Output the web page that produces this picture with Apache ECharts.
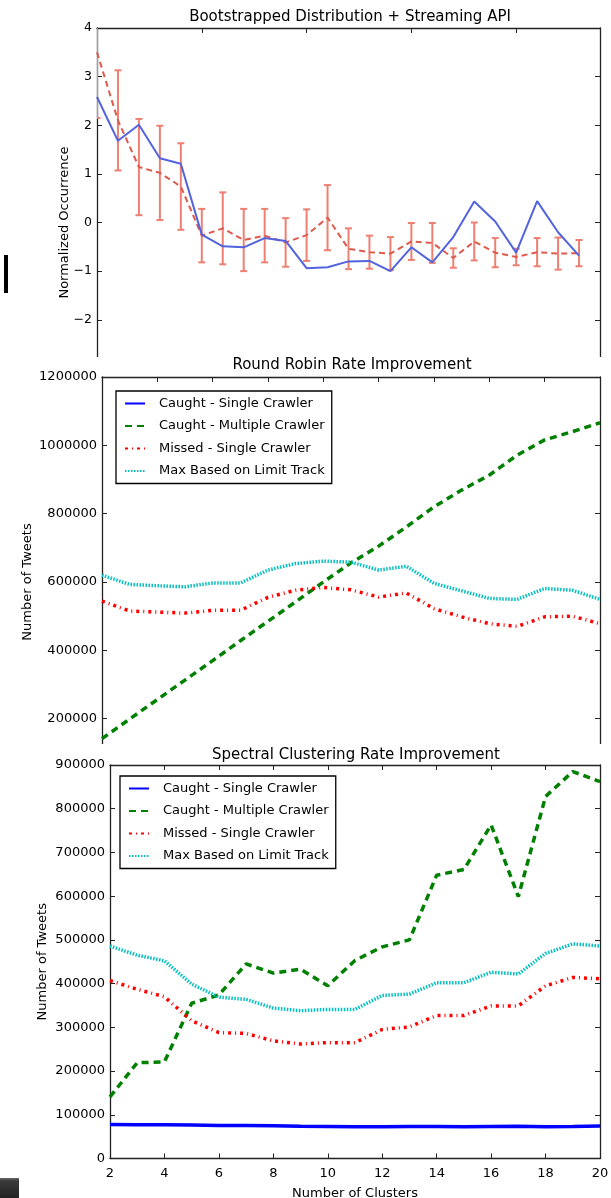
<!DOCTYPE html>
<html><head><meta charset="utf-8">
<script src="https://cdn.jsdelivr.net/npm/echarts/dist/echarts.min.js"></script>
<style>
html,body{margin:0;padding:0;background:#fff;width:611px;height:1198px;overflow:hidden;}
.clip{position:absolute;left:0;width:611px;overflow:hidden;background:#fff;}
.chart{position:absolute;left:0;top:0;width:611px;}
</style></head><body>
<div class="clip" style="top:0;height:357px"><div class="chart" id="c1" style="height:470px"></div></div>
<div class="clip" style="top:357px;height:387px"><div class="chart" id="c2" style="height:470px"></div></div>
<div class="clip" style="top:744px;height:454px"><div class="chart" id="c3" style="height:454px"></div></div>
<script>
// ---------- Panel 1 data ----------
const bootTitle = 'Bootstrapped Distribution + Streaming API';
const bootIndex = [0,1,2,3,4,5,6,7,8,9,10,11,12,13,14,15,16,17,18,19,20,21,22,23];
const streamingValues = [2.58,1.68,2.01,1.32,1.21,-0.25,-0.49,-0.51,-0.32,-0.38,-0.94,-0.92,-0.80,-0.79,-1.00,-0.51,-0.82,-0.30,0.43,0.02,-0.62,0.44,-0.20,-0.68];
const bootstrapMeans = [3.50,2.10,1.14,1.02,0.74,-0.27,-0.12,-0.36,-0.27,-0.41,-0.26,0.10,-0.54,-0.61,-0.64,-0.39,-0.42,-0.73,-0.39,-0.62,-0.71,-0.61,-0.64,-0.63];
const bootstrapErr = [1.35,1.03,0.99,0.97,0.89,0.55,0.74,0.64,0.55,0.50,0.53,0.67,0.42,0.34,0.34,0.38,0.41,0.20,0.39,0.30,0.17,0.29,0.33,0.27];

// ---------- Panels 2 & 3 data ----------
const clusters = [2,3,4,5,6,7,8,9,10,11,12,13,14,15,16,17,18,19,20];
const seriesNames = ['Caught - Single Crawler','Caught - Multiple Crawler','Missed - Single Crawler','Max Based on Limit Track'];
const singleCaught = [77500,77000,77000,76500,75500,75500,75000,73500,73000,72500,72500,73000,73000,72500,73000,73500,72500,73000,74500];
const rrMultiple = [141500,199000,256000,313000,370000,428000,485000,542000,600000,656000,705000,761000,820000,869000,913000,971000,1016000,1040000,1066000];
const rrMissed = [544000,515000,512000,509000,517000,517000,555000,576000,584000,577000,556000,568000,522000,498000,478000,470000,498000,500000,478000];
const rrMax = [620000,593000,589000,586000,597000,597000,635000,654000,661000,658000,635000,646000,596000,574000,552000,549000,581000,576000,549000];
const scMultiple = [141000,219000,221000,355000,374000,445000,424000,433000,395000,453000,484000,500000,648000,661000,763000,599000,828000,885000,862000];
const scMissed = [407000,387000,370000,315000,288000,286000,269000,262000,265000,265000,295000,301000,327000,327000,349000,349000,395000,414000,411000];
const scMax = [486000,465000,452000,399000,369000,364000,344000,338000,341000,341000,373000,376000,402000,402000,426000,422000,469000,491000,486000];

const FONT = 'DejaVu Sans';
const FRAME = {show:true, onZero:false, lineStyle:{color:'#222', width:1.3}};
const TICK = {show:true, inside:true, length:5, lineStyle:{color:'#222', width:1}};
const pairs = (xs, ys) => xs.map((x,i)=>[x, ys[i]]);
const minusFmt = v => v < 0 ? '\u2212' + (-v) : String(v);

function boxAxes(xCfg, yCfg, fs, xName, yName, yGap) {
  const lab = {color:'#000', fontSize:fs, fontFamily:FONT, formatter:minusFmt};
  const nameStyle = {color:'#000', fontSize:13, fontFamily:FONT};
  const xa = [
    Object.assign({type:'value', position:'bottom', axisLine:FRAME, axisTick:TICK, splitLine:{show:false},
      axisLabel:Object.assign({margin:9}, lab), nameMoveOverlap:false,
      name:xName||'', nameLocation:'middle', nameGap:29, nameTextStyle:nameStyle}, xCfg),
    Object.assign({type:'value', position:'top', axisLine:FRAME, axisTick:TICK, splitLine:{show:false}, axisLabel:{show:false}}, xCfg)
  ];
  const ya = [
    Object.assign({type:'value', position:'left', axisLine:FRAME, axisTick:TICK, splitLine:{show:false},
      axisLabel:Object.assign({margin:5}, lab), nameMoveOverlap:false,
      name:yName, nameLocation:'middle', nameGap:yGap, nameTextStyle:nameStyle}, yCfg),
    Object.assign({type:'value', position:'right', axisLine:FRAME, axisTick:TICK, splitLine:{show:false}, axisLabel:{show:false}}, yCfg)
  ];
  return {xa, ya};
}

function titleText(text, x, y) {
  return {type:'text', x:x, y:y, z:10, style:{text:text, fill:'#000', font:'15px "DejaVu Sans"', textAlign:'center', textVerticalAlign:'middle'}};
}

// ---------- Chart 1 ----------
(function(){
  const c = echarts.init(document.getElementById('c1'), null, {renderer:'canvas'});
  const ax = boxAxes({min:0, max:24, interval:5}, {min:-4, max:4, interval:1}, 12.5, '', 'Normalized Occurrence', 26);
  c.setOption({
    animation:false,
    grid:{left:97, top:28, width:503, height:389, outerBoundsMode:'none'},
    xAxis:ax.xa, yAxis:ax.ya,
    graphic:[titleText(bootTitle, 350, 17), {type:'rect', shape:{x:4, y:255, width:4, height:38}, style:{fill:'#000'}}],
    series:[
      {type:'custom', clip:true, silent:true, encode:{x:0, y:[1,2]},
       data: bootIndex.map((x,i)=>[x, bootstrapMeans[i]-bootstrapErr[i], bootstrapMeans[i]+bootstrapErr[i]]),
       renderItem:(params, api)=>{
         const x = api.value(0), lo = api.value(1), hi = api.value(2);
         const p1 = api.coord([x, lo]), p2 = api.coord([x, hi]);
         const w = 3.5, st = {stroke:'#ee7f72', lineWidth:2};
         return {type:'group', children:[
           {type:'line', shape:{x1:p1[0], y1:p1[1], x2:p2[0], y2:p2[1]}, style:st},
           {type:'line', shape:{x1:p1[0]-w, y1:p1[1], x2:p1[0]+w, y2:p1[1]}, style:st},
           {type:'line', shape:{x1:p2[0]-w, y1:p2[1], x2:p2[0]+w, y2:p2[1]}, style:st}
         ]};
       }},
      {type:'line', data:pairs(bootIndex, bootstrapMeans), symbol:'none', silent:true,
       lineStyle:{color:'#dd5a4c', width:2, type:[6,4]}},
      {type:'line', data:pairs(bootIndex, streamingValues), symbol:'none', silent:true,
       lineStyle:{color:'#5263de', width:2}}
    ]
  });
})();

function rateSeries(single, multiple, missed, maxv) {
  const base = {type:'line', symbol:'none', silent:true};
  return [
    Object.assign({name:seriesNames[0], data:pairs(clusters, single), lineStyle:{color:'#0000ff', width:3.5}, itemStyle:{color:'#0000ff'}}, base),
    Object.assign({name:seriesNames[1], data:pairs(clusters, multiple), lineStyle:{color:'#008000', width:3.5, type:[7,5]}, itemStyle:{color:'#008000'}}, base),
    Object.assign({name:seriesNames[2], data:pairs(clusters, missed), lineStyle:{color:'#ff0000', width:3.5, type:[3,4,1,4]}, itemStyle:{color:'#ff0000'}}, base),
    Object.assign({name:seriesNames[3], data:pairs(clusters, maxv), lineStyle:{color:'#00bfbf', width:3.5, type:[1.5,1.5]}, itemStyle:{color:'#00bfbf'}}, base)
  ];
}
function legendCfg(left, top) {
  return {show:true, orient:'vertical', left:left, top:top, data:seriesNames,
    backgroundColor:'#fff', borderColor:'#000', borderWidth:1.3, padding:[6,7,6,8],
    itemWidth:20, itemHeight:10, itemGap:9.5, selectedMode:false,
    itemStyle:{opacity:0},
    textStyle:{color:'#000', fontSize:13, fontFamily:FONT, padding:[0,0,0,9]}};
}

// ---------- Chart 2 ----------
(function(){
  const c = echarts.init(document.getElementById('c2'), null, {renderer:'canvas'});
  const ax = boxAxes({min:2, max:20, interval:2}, {min:0, max:1200000, interval:200000}, 13, '', 'Number of Tweets', 68);
  c.setOption({
    animation:false,
    grid:{left:102, top:20, width:498, height:410, outerBoundsMode:'none'},
    xAxis:ax.xa, yAxis:ax.ya,
    legend:legendCfg(116, 34),
    graphic:[titleText('Round Robin Rate Improvement', 352, 8)],
    series:rateSeries(singleCaught, rrMultiple, rrMissed, rrMax)
  });
})();

// ---------- Chart 3 ----------
(function(){
  const c = echarts.init(document.getElementById('c3'), null, {renderer:'canvas'});
  const ax = boxAxes({min:2, max:20, interval:2}, {min:0, max:900000, interval:100000}, 13, 'Number of Clusters', 'Number of Tweets', 61);
  c.setOption({
    animation:false,
    grid:{left:110, top:21, width:490, height:393.5, outerBoundsMode:'none'},
    xAxis:ax.xa, yAxis:ax.ya,
    legend:legendCfg(120, 32),
    graphic:[titleText('Spectral Clustering Rate Improvement', 356, 11),
      {type:'rect', shape:{x:0, y:434, width:19, height:20},
       style:{fill:new echarts.graphic.LinearGradient(0,0,0,1,[{offset:0,color:'#666'},{offset:0.15,color:'#3a3a3a'},{offset:1,color:'#222'}])}}],
    series:rateSeries(singleCaught, scMultiple, scMissed, scMax)
  });
})();
</script>
</body></html>
